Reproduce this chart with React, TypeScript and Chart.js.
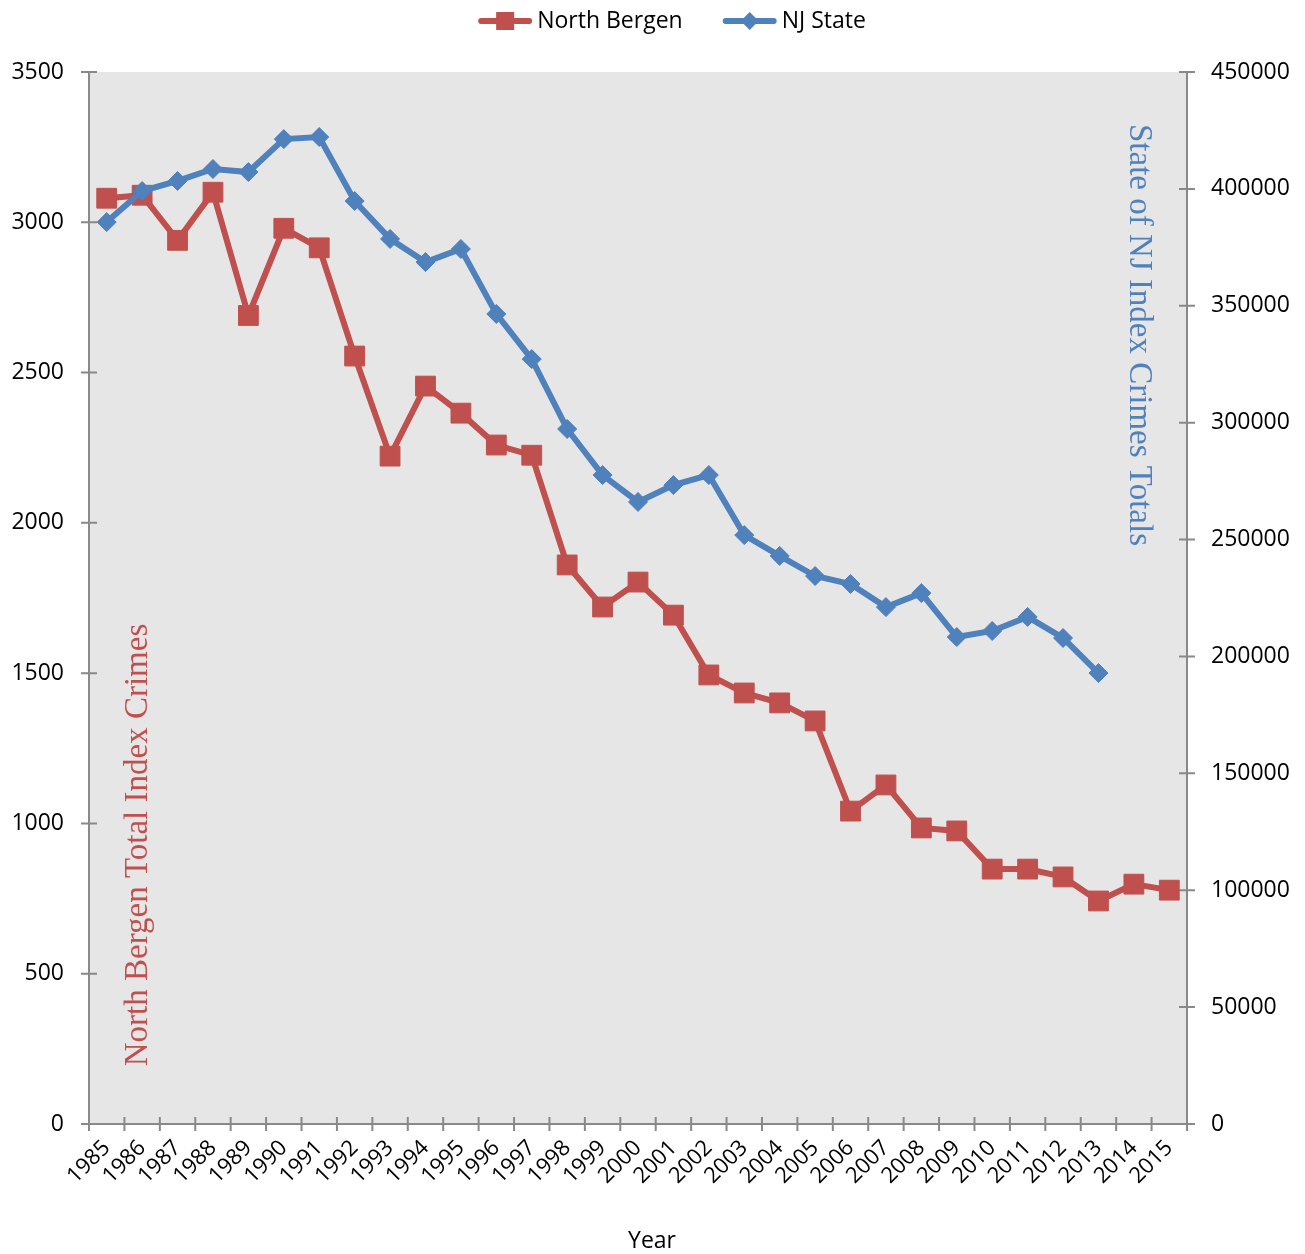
import React, { useEffect, useRef } from "react";
import { Chart, registerables } from "chart.js";

Chart.register(...registerables);

const years = [
  "1985", "1986", "1987", "1988", "1989", "1990", "1991", "1992", "1993", "1994",
  "1995", "1996", "1997", "1998", "1999", "2000", "2001", "2002", "2003", "2004",
  "2005", "2006", "2007", "2008", "2009", "2010", "2011", "2012", "2013", "2014", "2015",
];

const northBergen = [
  3080, 3090, 2940, 3100, 2690, 2980, 2915, 2555, 2222, 2455,
  2365, 2259, 2225, 1860, 1720, 1803, 1693, 1494, 1434, 1401,
  1341, 1041, 1128, 985, 975, 848, 848, 822, 742, 798, 778,
];

const njState = [
  385800, 399100, 403400, 408500, 407200, 421300, 422200, 394800, 378600, 368700,
  374300, 346500, 327200, 297300, 277600, 266100, 273300, 277600, 251900, 243000,
  234400, 231000, 221100, 227100, 208300, 210900, 216900, 207900, 192900, null, null,
];

const seriesNames = ["North Bergen", "NJ State"];
const leftTitle = "North Bergen Total Index Crimes";
const rightTitle = "State of NJ Index Crimes Totals";
const xTitle = "Year";

const RED = "#c0504d";
const BLUE = "#4f81bd";
const AXIS = "#898989";
const SANS = "'Open Sans', 'Liberation Sans', sans-serif";
const SERIF = "'Liberation Serif', 'DejaVu Serif', serif";

const decorPlugin = {
  id: "decor",
  beforeDraw(chart: any) {
    const { ctx, chartArea: a } = chart;
    ctx.save();
    ctx.fillStyle = "#ffffff";
    ctx.fillRect(0, 0, chart.width, chart.height);
    ctx.fillStyle = "#e6e6e6";
    ctx.fillRect(a.left, a.top, a.right - a.left, a.bottom - a.top);
    ctx.restore();
  },
  beforeDatasetsDraw(chart: any) {
    const { ctx, chartArea: a } = chart;
    ctx.save();
    // axis titles inside plot area
    ctx.font = `33px ${SERIF}`;
    ctx.textAlign = "center";
    ctx.textBaseline = "middle";
    ctx.fillStyle = RED;
    ctx.save();
    ctx.translate(a.left + 49, a.top + 773);
    ctx.rotate(-Math.PI / 2);
    ctx.fillText(leftTitle, 0, 0);
    ctx.restore();
    ctx.fillStyle = BLUE;
    ctx.save();
    ctx.translate(a.right - 48, a.top + 263);
    ctx.rotate(Math.PI / 2);
    ctx.fillText(rightTitle, 0, 0);
    ctx.restore();

    // x axis title
    ctx.font = `23px ${SANS}`;
    ctx.fillStyle = "#000";
    ctx.fillText(xTitle, 652, 1241);

    // axis lines
    ctx.strokeStyle = AXIS;
    ctx.lineWidth = 2;
    ctx.beginPath();
    ctx.moveTo(a.left, a.top);
    ctx.lineTo(a.left, a.bottom);
    ctx.moveTo(a.right, a.top);
    ctx.lineTo(a.right, a.bottom);
    ctx.moveTo(a.left - 7, a.bottom);
    ctx.lineTo(a.right + 7, a.bottom);
    // crossing tick marks
    const yL = chart.scales.y;
    yL.ticks.forEach((t: any) => {
      const py = yL.getPixelForValue(t.value);
      ctx.moveTo(a.left - 8, py);
      ctx.lineTo(a.left + 8, py);
    });
    const yR = chart.scales.y1;
    yR.ticks.forEach((t: any) => {
      const py = yR.getPixelForValue(t.value);
      ctx.moveTo(a.right - 8, py);
      ctx.lineTo(a.right + 8, py);
    });
    const n = years.length;
    for (let i = 0; i <= n; i++) {
      const px = a.left + (i * (a.right - a.left)) / n;
      ctx.moveTo(px, a.bottom - 7);
      ctx.lineTo(px, a.bottom + 7);
    }
    ctx.stroke();
    ctx.restore();
  },
  afterDraw(chart: any) {
    const { ctx } = chart;
    ctx.save();
    ctx.font = `23px ${SANS}`;
    ctx.textBaseline = "middle";
    ctx.textAlign = "left";
    const sample = 54;
    const gap = 5;
    const spacing = 40;
    const w1 = ctx.measureText(seriesNames[0]).width;
    const w2 = ctx.measureText(seriesNames[1]).width;
    const total = sample + gap + w1 + spacing + sample + gap + w2;
    let x = 672 - total / 2;
    const y = 21;
    const drawSample = (color: string, diamond: boolean) => {
      ctx.strokeStyle = color;
      ctx.lineWidth = 6;
      ctx.lineCap = "round";
      ctx.beginPath();
      ctx.moveTo(x + 3, y);
      ctx.lineTo(x + sample - 3, y);
      ctx.stroke();
      ctx.fillStyle = color;
      const cx = x + sample / 2;
      if (diamond) {
        ctx.beginPath();
        ctx.moveTo(cx, y - 9);
        ctx.lineTo(cx + 9, y);
        ctx.lineTo(cx, y + 9);
        ctx.lineTo(cx - 9, y);
        ctx.closePath();
        ctx.fill();
      } else {
        ctx.fillRect(cx - 9, y - 9, 18, 18);
      }
    };
    drawSample(RED, false);
    x += sample + gap;
    ctx.fillStyle = "#000";
    ctx.fillText(seriesNames[0], x, y);
    x += w1 + spacing;
    drawSample(BLUE, true);
    x += sample + gap;
    ctx.fillStyle = "#000";
    ctx.fillText(seriesNames[1], x, y);
    ctx.restore();
  },
};

const plain = (v: any) => String(v);

export default function App() {
  const canvasRef = useRef<HTMLCanvasElement | null>(null);

  useEffect(() => {
    document.body.style.margin = "0";
    const canvas = canvasRef.current;
    if (!canvas) return;
    const chart = new Chart(canvas, {
      type: "line",
      data: {
        labels: years,
        datasets: [
          {
            label: seriesNames[0],
            data: northBergen,
            yAxisID: "y",
            borderColor: RED,
            backgroundColor: RED,
            borderWidth: 6,
            pointStyle: "rect",
            pointRadius: 14,
            pointBorderWidth: 1,
            pointBorderColor: RED,
            pointBackgroundColor: RED,
            tension: 0,
            order: 2,
          },
          {
            label: seriesNames[1],
            data: njState,
            yAxisID: "y1",
            borderColor: BLUE,
            backgroundColor: BLUE,
            borderWidth: 6,
            pointStyle: "rectRot",
            pointRadius: 9.5,
            pointBorderWidth: 1,
            pointBorderColor: BLUE,
            pointBackgroundColor: BLUE,
            tension: 0,
            spanGaps: false,
            order: 1,
          },
        ],
      },
      options: {
        responsive: false,
        animation: false,
        layout: { padding: { top: 72, left: 0, right: 0, bottom: 0 } },
        plugins: {
          legend: { display: false },
          tooltip: { enabled: false },
        },
        scales: {
          x: {
            type: "category",
            offset: true,
            grid: { display: false, drawTicks: false, tickLength: 0 },
            border: { display: false },
            ticks: {
              autoSkip: false,
              minRotation: 45,
              maxRotation: 45,
              padding: 11,
              color: "#000",
              font: { family: SANS, size: 22 },
            },
            afterFit: (s: any) => {
              s.height = 130;
            },
          },
          y: {
            type: "linear",
            position: "left",
            min: 0,
            max: 3500,
            grid: { display: false, drawTicks: false, tickLength: 0 },
            border: { display: false },
            ticks: {
              stepSize: 500,
              padding: 25,
              color: "#000",
              font: { family: SANS, size: 23 },
              callback: plain,
            },
            afterFit: (s: any) => {
              s.width = 89;
            },
          },
          y1: {
            type: "linear",
            position: "right",
            min: 0,
            max: 450000,
            grid: { display: false, drawTicks: false, tickLength: 0 },
            border: { display: false },
            ticks: {
              stepSize: 50000,
              padding: 24,
              color: "#000",
              font: { family: SANS, size: 23 },
              callback: plain,
            },
            afterFit: (s: any) => {
              s.width = 118;
            },
          },
        },
      },
      plugins: [decorPlugin],
    });
    return () => chart.destroy();
  }, []);

  return (
    <div style={{ width: 1305, height: 1254 }}>
      <canvas ref={canvasRef} width={1305} height={1254} />
    </div>
  );
}
